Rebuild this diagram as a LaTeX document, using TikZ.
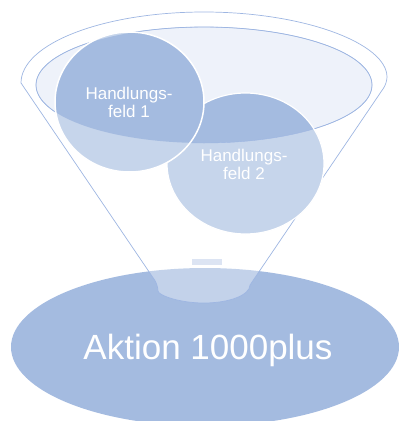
\documentclass[tikz,border=0pt]{standalone}
\usepackage{fontspec}
\setmainfont{Liberation Sans}

\definecolor{feldblau}{RGB}{164,187,224}
\definecolor{feldhell}{RGB}{198,213,235}
\definecolor{schale}{RGB}{238,242,250}
\definecolor{rand}{RGB}{158,182,226}
\definecolor{marke}{RGB}{220,228,243}

\begin{document}
\begin{tikzpicture}[x=1pt,y=-1pt,
  feldtext/.style={text=white, align=center, font=\fontsize{17}{18}\selectfont},
  rahmen/.style={draw=rand, line width=0.7pt}]
  \useasboundingbox (0,0) rectangle (399,421);

  % Base ellipse with the action
  \fill[feldblau] (205,347) ellipse [x radius=194, y radius=79];
  \node[text=white, font=\fontsize{35}{40}\selectfont, anchor=base] (aktion) at (208,359) {Aktion 1000plus};

  % Funnel outline
  \filldraw[rahmen, fill=white, fill opacity=0.35, rounded corners=6pt]
    (21,83) -- (158,285)
    [sharp corners] arc [start angle=180, end angle=0, x radius=46, y radius=18]
    [rounded corners=6pt] -- (387,83)
    [sharp corners] arc [start angle=0, end angle=-180, x radius=183, y radius=71];
  \fill[marke] (192,259) rectangle (222,265);

  % Inner ellipse of the funnel
  \filldraw[rahmen, fill=schale] (204,85) ellipse [x radius=168, y radius=58];

  % Fields
  \fill[feldhell] (245.5,163.5) ellipse [x radius=78.5, y radius=70.5];
  \begin{scope}
    \clip (204,85) ellipse [x radius=168, y radius=58];
    \fill[feldblau] (245.5,163.5) ellipse [x radius=78.5, y radius=70.5];
  \end{scope}
  \draw[rand] (204,85) ellipse [x radius=168, y radius=58];
  \draw[white, line width=1.2pt] (245.5,163.5) ellipse [x radius=78.5, y radius=70.5];

  \fill[feldhell] (129.5,102) ellipse [x radius=74.5, y radius=70];
  \begin{scope}
    \clip (204,85) ellipse [x radius=168, y radius=58];
    \fill[feldblau] (129.5,102) ellipse [x radius=74.5, y radius=70];
  \end{scope}
  \draw[white, line width=1.5pt] (129.5,102) ellipse [x radius=74.5, y radius=70];

  \node[feldtext] (feld1) at (129,102) {Handlungs-\\feld 1};
  \node[feldtext] (feld2) at (244,164) {Handlungs-\\feld 2};
\end{tikzpicture}
\end{document}
